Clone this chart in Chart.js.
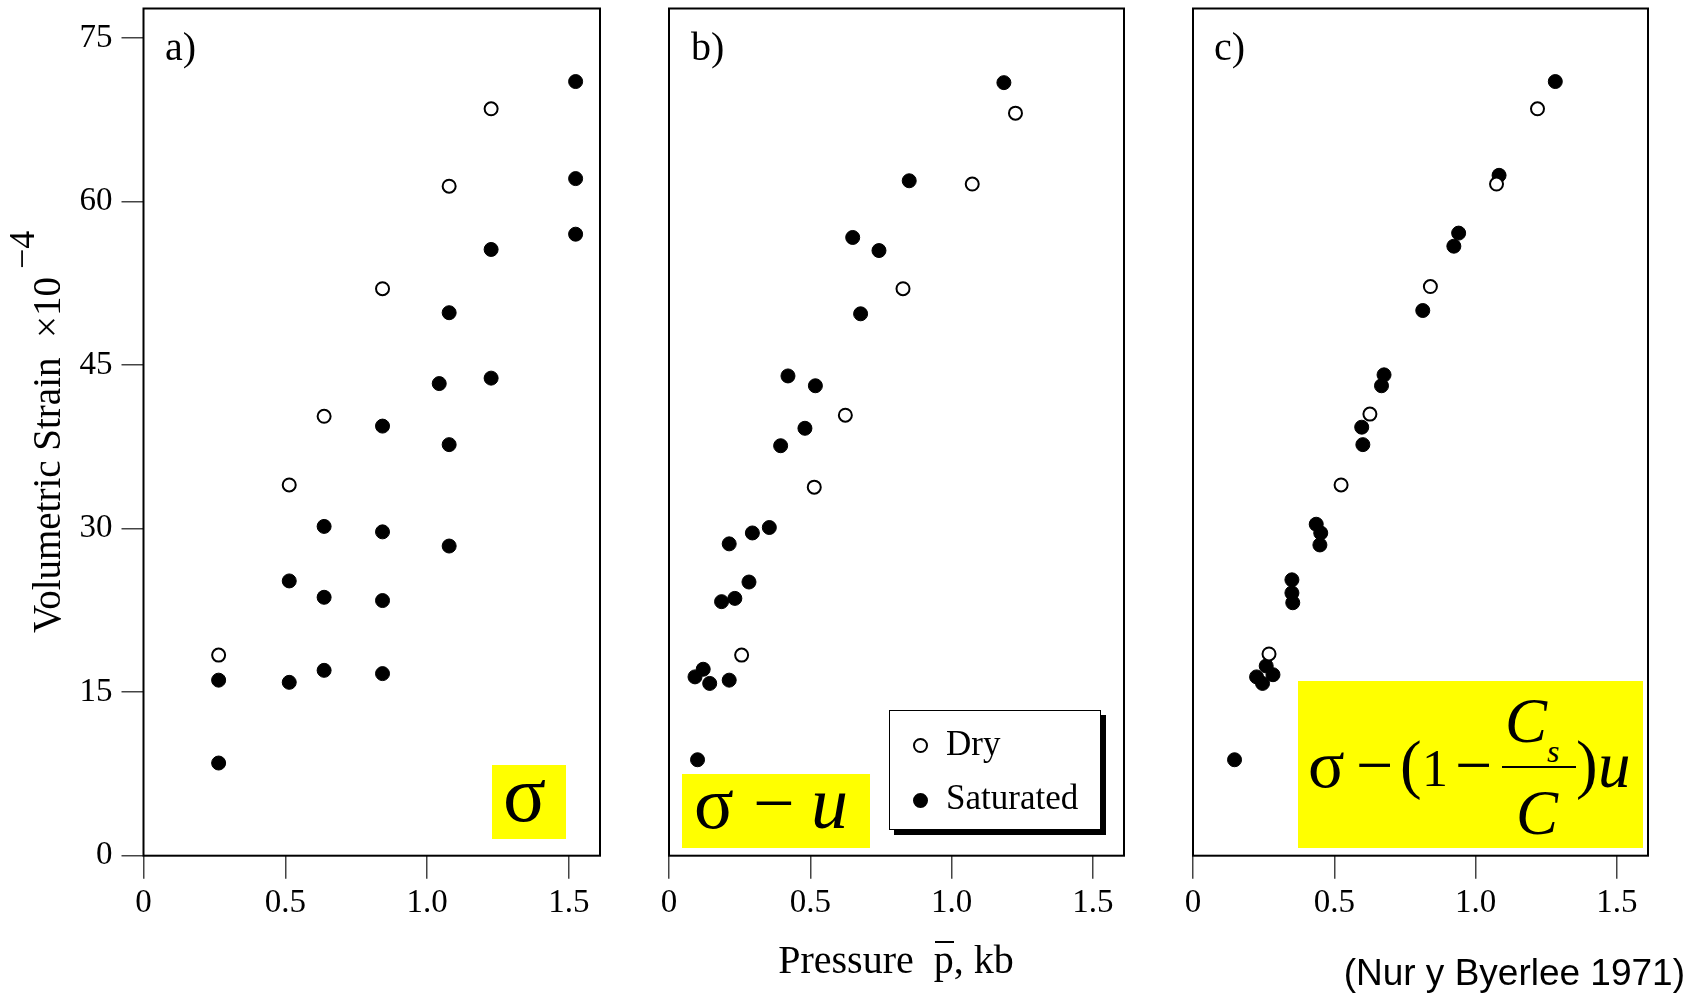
<!DOCTYPE html>
<html>
<head>
<meta charset="utf-8">
<title>Volumetric Strain vs Pressure (Nur y Byerlee 1971)</title>
<script src="https://cdn.jsdelivr.net/npm/chart.js@4.4.1/dist/chart.umd.min.js"></script>
<style>
	body { margin: 0; width: 1702px; height: 994px; overflow: hidden; background: #fff; position: relative; font-family: "Liberation Serif", "Times New Roman", serif; }
	canvas { position: absolute; left: 0; top: 0; }
	.txt { position: absolute; white-space: nowrap; line-height: 1; color: #000; z-index: 2; }
	.yellow { position: absolute; background: #ffff00; z-index: 1; }
	.legend { position: absolute; left: 889px; top: 710px; width: 212px; height: 120px; box-sizing: border-box; border: 1.5px solid #000; background: #fff; box-shadow: 5px 5px 0 #000; z-index: 2; }
	.legend .dot { position: absolute; width: 15px; height: 15px; box-sizing: border-box; border-radius: 50%; }
	.y-title { position: absolute; left: 27px; top: 633px; font-size: 39px; line-height: 40px; white-space: nowrap; transform-origin: 0 0; transform: rotate(-90deg); z-index: 2; }
	.y-title .sup { position: relative; top: -26px; font-size: 36px; margin-left: 8px; }
	.bar { position: relative; }
	.bar::after { content: ''; position: absolute; left: 1px; right: 0; top: 4px; border-top: 2px solid #000; }
</style>
</head>
<body>
<canvas id="panel-a" width="1702" height="994"></canvas>
<canvas id="panel-b" width="1702" height="994"></canvas>
<canvas id="panel-c" width="1702" height="994"></canvas>

<script>
// axes
const x_ticks = [0, 0.5, 1.0, 1.5];
const x_tick_labels = ['0', '0.5', '1.0', '1.5'];
const y_ticks = [0, 15, 30, 45, 60, 75];
const y_tick_labels = ['0', '15', '30', '45', '60', '75'];

// a) total stress sigma
const dry_a_x = [0.265, 0.514, 0.637, 0.843, 1.078, 1.226];
const dry_a_y = [18.4, 34.0, 40.3, 52.0, 61.4, 68.5];
const sat_a_x = [0.265, 0.265, 0.514, 0.514, 0.637, 0.637, 0.637, 0.843, 0.843, 0.843, 0.843, 1.043, 1.078, 1.078, 1.078, 1.226, 1.226, 1.524, 1.524, 1.524];
const sat_a_y = [8.5, 16.1, 15.9, 25.2, 17.0, 23.7, 30.2, 16.7, 23.4, 29.7, 39.4, 43.3, 28.4, 37.7, 49.8, 43.8, 55.6, 57.0, 62.1, 71.0];

// b) sigma - u
const dry_b_x = [0.257, 0.514, 0.624, 0.828, 1.073, 1.226];
const dry_b_y = [18.4, 33.8, 40.4, 52.0, 61.6, 68.1];
const sat_b_x = [0.101, 0.092, 0.144, 0.213, 0.121, 0.186, 0.233, 0.283, 0.213, 0.295, 0.355, 0.395, 0.481, 0.518, 0.421, 0.678, 0.743, 0.650, 0.850, 1.185];
const sat_b_y = [8.8, 16.4, 15.8, 16.1, 17.1, 23.3, 23.6, 25.1, 28.6, 29.6, 30.1, 37.6, 39.2, 43.1, 44.0, 49.7, 55.5, 56.7, 61.9, 70.9];

// c) sigma - (1 - Cs/C) u
const dry_c_x = [0.269, 0.524, 0.626, 0.840, 1.074, 1.219];
const dry_c_y = [18.5, 34.0, 40.5, 52.2, 61.6, 68.5];
const sat_c_x = [0.147, 0.246, 0.225, 0.283, 0.259, 0.353, 0.350, 0.350, 0.449, 0.452, 0.436, 0.601, 0.597, 0.667, 0.676, 0.813, 0.923, 0.940, 1.083, 1.282];
const sat_c_y = [8.8, 15.8, 16.4, 16.6, 17.4, 23.2, 24.1, 25.3, 28.5, 29.6, 30.4, 37.7, 39.3, 43.1, 44.1, 50.0, 55.9, 57.1, 62.4, 71.0];

const serif = 'Liberation Serif';

function to_points(xs, ys) {
	return xs.map((x, i) => ({ x: x, y: ys[i] }));
}

//box around each plot area
const frame_plugin = {
	id: 'frame',
	beforeDatasetsDraw(chart) {
		const { ctx, chartArea: a } = chart;
		ctx.save();
		ctx.strokeStyle = '#000';
		ctx.lineWidth = 2;
		ctx.strokeRect(a.left, a.top, a.right - a.left, a.bottom - a.top);
		ctx.restore();
	}
};

function make_panel(canvas_id, dry_x, dry_y, sat_x, sat_y, pad_left, pad_right, show_y) {
	const ctx = document.getElementById(canvas_id).getContext('2d');
	return new Chart(ctx, {
		type: 'scatter',
		data: {
			datasets: [{
				label: 'Dry',
				data: to_points(dry_x, dry_y),
				pointRadius: 6.5,
				pointBorderWidth: 2,
				pointBackgroundColor: '#fff',
				pointBorderColor: '#000'
			},
			{
				label: 'Saturated',
				data: to_points(sat_x, sat_y),
				pointRadius: 7,
				pointBorderWidth: 1,
				pointBackgroundColor: '#000',
				pointBorderColor: '#000'
			}]
		},
		options: {
			responsive: false,
			animation: false,
			layout: { padding: { left: pad_left, right: pad_right, top: 6, bottom: 0 } },
			plugins: { legend: { display: false }, tooltip: { enabled: false } },
			scales: {
				x: {
					type: 'linear',
					min: 0,
					max: 1.61,
					border: { display: false },
					grid: { drawOnChartArea: false, tickLength: 23, color: '#444', lineWidth: 1.5 },
					ticks: {
						padding: 5,
						color: '#000',
						font: { family: serif, size: 33 },
						callback: (v, i) => x_tick_labels[i]
					},
					afterBuildTicks: (s) => { s.ticks = x_ticks.map(v => ({ value: v })); },
					afterFit: (s) => { s.height = 994 - 855.7; s.paddingLeft = 0; s.paddingRight = 0; }
				},
				y: {
					type: 'linear',
					display: show_y,
					min: 0,
					max: 77.7,
					border: { display: false },
					grid: { drawOnChartArea: false, tickLength: 22, color: '#444', lineWidth: 1.5 },
					ticks: {
						padding: 9,
						color: '#000',
						font: { family: serif, size: 33 },
						callback: (v, i) => y_tick_labels[i]
					},
					afterBuildTicks: (s) => { s.ticks = y_ticks.map(v => ({ value: v })); },
					afterFit: (s) => { s.width = show_y ? 143.5 : 0; s.paddingTop = 0; s.paddingBottom = 0; }
				}
			}
		},
		plugins: [frame_plugin]
	});
}

const chart_a = make_panel('panel-a', dry_a_x, dry_a_y, sat_a_x, sat_a_y, 0, 1102, true);
const chart_b = make_panel('panel-b', dry_b_x, dry_b_y, sat_b_x, sat_b_y, 669, 578, false);
const chart_c = make_panel('panel-c', dry_c_x, dry_c_y, sat_c_x, sat_c_y, 1193, 54, false);

// text helper: left edge and baseline in page pixels
function put_text(parent, html, left, baseline, size, opts) {
	opts = opts || {};
	const el = document.createElement('div');
	el.className = 'txt';
	const factor = opts.sans ? 0.8465 : 0.8375;
	el.style.fontFamily = opts.sans ? '"Liberation Sans", Arial, sans-serif' : '"Liberation Serif", serif';
	el.style.fontSize = size + 'px';
	el.style.top = (baseline - factor * size) + 'px';
	if (opts.right !== undefined) el.style.right = opts.right + 'px';
	else el.style.left = left + 'px';
	if (opts.italic) el.style.fontStyle = 'italic';
	if (opts.center) { el.style.width = opts.center + 'px'; el.style.textAlign = 'center'; }
	el.innerHTML = html;
	parent.appendChild(el);
	return el;
}

function yellow_box(left, top, w, h) {
	const el = document.createElement('div');
	el.className = 'yellow';
	el.style.left = left + 'px';
	el.style.top = top + 'px';
	el.style.width = w + 'px';
	el.style.height = h + 'px';
	document.body.appendChild(el);
}

const body = document.body;

// panel labels
put_text(body, 'a)', 165, 60, 40);
put_text(body, 'b)', 691, 60, 40);
put_text(body, 'c)', 1214, 60, 40);

// axis titles
const y_title = document.createElement('div');
y_title.className = 'y-title';
y_title.innerHTML = 'Volumetric Strain&nbsp;&nbsp;×10<span class="sup">−4</span>';
body.appendChild(y_title);

put_text(body, 'Pressure&nbsp;&nbsp;<span class="bar">p</span>, kb', 696, 973, 40, { center: 400 });
put_text(body, '(Nur y Byerlee 1971)', 0, 985, 37, { sans: true, right: 17 });

// a) sigma
yellow_box(492, 765, 74, 74);
put_text(body, 'σ', 503, 821, 80);

// b) sigma - u
yellow_box(682, 774, 188, 74);
put_text(body, 'σ', 694, 828, 74);
put_text(body, '−', 753, 828, 74);
put_text(body, 'u', 811, 828, 74, { italic: true });

// c) sigma - (1 - Cs/C) u
yellow_box(1298, 681, 345, 167);
put_text(body, 'σ', 1308, 787, 68);
put_text(body, '−', 1356, 787, 66);
put_text(body, '(', 1400, 786, 65);
put_text(body, '1', 1422, 787, 52);
put_text(body, '−', 1455, 787, 66);
const frac_line = document.createElement('div');
frac_line.style.cssText = 'position:absolute;left:1502px;top:766px;width:74px;height:2px;background:#000;z-index:2;';
body.appendChild(frac_line);
put_text(body, 'C', 1505, 743, 63, { italic: true });
put_text(body, 's', 1547, 762, 32, { italic: true });
put_text(body, 'C', 1516, 835, 63, { italic: true });
put_text(body, ')', 1576, 786, 65);
put_text(body, 'u', 1598, 787, 65, { italic: true });

// legend inside panel b, built from the datasets
const legend = document.createElement('div');
legend.className = 'legend';
body.appendChild(legend);
chart_b.data.datasets.forEach((ds, i) => {
	const dot = document.createElement('div');
	dot.className = 'dot';
	dot.style.left = '23px';
	dot.style.top = (27 + i * 55) + 'px';
	dot.style.background = ds.pointBackgroundColor;
	dot.style.border = '2px solid ' + ds.pointBorderColor;
	legend.appendChild(dot);
	put_text(legend, ds.label, 56, 44.5 + i * 54, 35);
});
</script>
</body>
</html>
